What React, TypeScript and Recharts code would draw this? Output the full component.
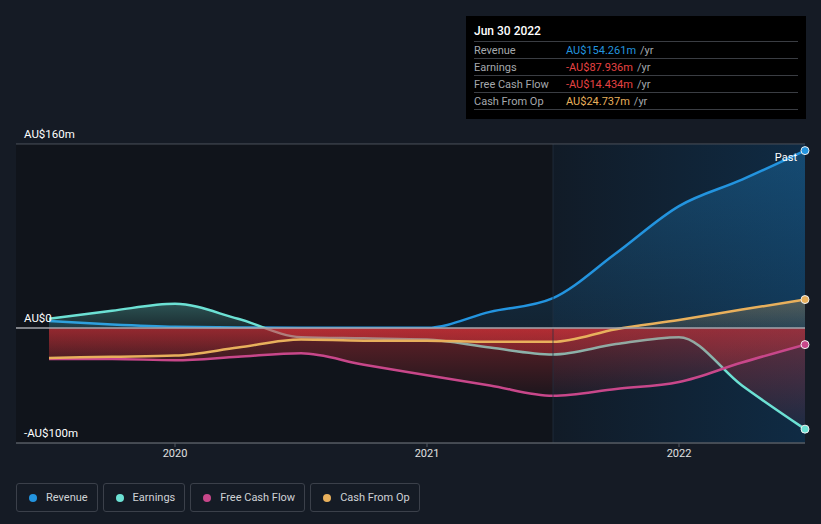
import * as React from "react"
import { ComposedChart, Area, XAxis, YAxis, CartesianGrid, ReferenceArea, ReferenceLine, ReferenceDot } from "recharts"

// quarter ends, as decimal years (Jun 2019 .. Jun 2022)
const periods = [2019.5, 2019.75, 2020, 2020.25, 2020.5, 2020.75, 2021, 2021.25, 2021.5, 2021.75, 2022, 2022.25, 2022.5]
const revenue = [6, 3, 1, 0.5, 0.3, 0.2, 0.2, 14, 26, 65, 106, 129, 154.261]
const earnings = [8, 15, 21, 8, -8, -9, -10, -17, -23, -14, -8, -50, -87.936]
const freeCashFlow = [-27, -27, -28, -25, -22, -32, -41, -50, -59, -53, -47, -30, -14.434]
const cashFromOp = [-26, -25, -24, -17, -10, -11, -11, -12, -12, -1, 7, 16, 24.737]

const yLabelTicks = [160, 0, -100]
const yTicks = [-100, 0, 100, 160]
const xTicks = [2020, 2021, 2022]
const X_MIN = 2019.369
const X_MAX = 2022.5
const PAST_START = 2021.5

const series = [
  { key: "revenue", name: "Revenue", color: "#2394df", values: revenue, latest: "AU$154.261m", valueColor: "#2394df" },
  { key: "earnings", name: "Earnings", color: "#6ce1d4", values: earnings, latest: "-AU$87.936m", valueColor: "#e64343" },
  { key: "fcf", name: "Free Cash Flow", color: "#c8478a", values: freeCashFlow, latest: "-AU$14.434m", valueColor: "#e64343" },
  { key: "cfo", name: "Cash From Op", color: "#e8b05c", values: cashFromOp, latest: "AU$24.737m", valueColor: "#e8b05c" },
]

const data = periods.map((t, i) => {
  const row: Record<string, number> = { t }
  series.forEach(s => { row[s.key] = s.values[i] })
  return row
})

const fmtY = (v: number) => {
  if (v === 0) return "AU$0"
  return (v < 0 ? "-" : "") + "AU$" + Math.abs(v) + "m"
}

const lineStroke: Record<number, string> = { 160: "#474c56", 0: "#a3a6ad", [-100]: "#555a63" }

const font = "Roboto, 'Noto Sans', sans-serif"

export default function App() {
  return (
    <div style={{ position: "absolute", left: 0, top: 0, width: 821, height: 524, background: "#151b25", fontFamily: font, overflow: "hidden" }}>
      <ComposedChart
        width={821}
        height={470}
        data={data}
        margin={{ top: 144, right: 16, bottom: 7, left: 16 }}
        style={{ fontFamily: font }}
      >
        <defs>
          <linearGradient id="pastBg" x1="0" y1="0" x2="1" y2="0">
            <stop offset="0%" stopColor="#111b27" />
            <stop offset="100%" stopColor="#0f2b44" />
          </linearGradient>
          {series.map(s => {
            const max = Math.max(0, ...s.values)
            const min = Math.min(0, ...s.values)
            const z = max / (max - min)
            return (
              <linearGradient key={s.key} id={`fill-${s.key}`} x1="0" y1="0" x2="0" y2="1">
                <stop offset="0" stopColor={s.color} stopOpacity={0.3} />
                <stop offset={z} stopColor={s.color} stopOpacity={0.12} />
                <stop offset={z} stopColor="#e0343a" stopOpacity={0.4} />
                <stop offset="1" stopColor="#e0343a" stopOpacity={0.06} />
              </linearGradient>
            )
          })}
        </defs>
        <ReferenceArea x1={X_MIN} x2={PAST_START} y1={-100} y2={160} fill="#10141b" fillOpacity={1} stroke="none" ifOverflow="hidden" />
        <ReferenceArea x1={PAST_START} x2={X_MAX} y1={-100} y2={160} fill="url(#pastBg)" fillOpacity={1} stroke="none" ifOverflow="hidden" />
        <CartesianGrid vertical={false} stroke="#262c36" />
        <ReferenceLine x={PAST_START} stroke="#223041" strokeOpacity={0.7} />
        <XAxis
          dataKey="t"
          type="number"
          domain={[X_MIN, X_MAX]}
          ticks={xTicks}
          allowDataOverflow
          tickFormatter={(v: number) => String(v)}
          tick={{ fill: "#e0e0e0", fontSize: 11 }}
          axisLine={{ stroke: "#555a63" }}
          tickLine={{ stroke: "#555a63" }}
          tickSize={4}
          height={20}
        />
        <YAxis
          type="number"
          domain={[-100, 160]}
          ticks={yTicks}
          width={0}
          axisLine={false}
          tickLine={false}
          tick={false}
          allowDataOverflow
        />
        {series.map(s => (
          <Area
            key={s.key}
            type="monotone"
            dataKey={s.key}
            name={s.name}
            stroke={s.color}
            strokeWidth={2.5}
            fill={`url(#fill-${s.key})`}
            fillOpacity={1}
            baseValue={0}
            dot={false}
            activeDot={false}
            isAnimationActive={false}
          />
        ))}
        {yLabelTicks.map(v => (
          <ReferenceLine
            key={v}
            y={v}
            stroke={lineStroke[v]}
            strokeWidth={v === 0 ? 1.5 : 1}
            label={(p: any) => (
              <text x={p.viewBox.x + 8} y={p.viewBox.y - 6} fill="#fff" fontSize={11.5}>
                {fmtY(v)}
              </text>
            )}
          />
        ))}
        {series.map((s, i) => (
          <ReferenceDot
            key={s.key}
            x={periods[periods.length - 1]}
            y={s.values[s.values.length - 1]}
            r={4}
            fill={s.color}
            stroke="#f0f0f0"
            strokeWidth={1}
            label={i === 0 ? (p: any) => (
              <text x={p.viewBox.x - 4} y={p.viewBox.y + 14} textAnchor="end" fill="#fff" fontSize={11}>Past</text>
            ) : undefined}
          />
        ))}
      </ComposedChart>

      <div style={{ position: "absolute", left: 466, top: 16, width: 340, height: 103, background: "#000", boxSizing: "border-box", padding: "0 8px" }}>
        <div style={{ color: "#fff", fontSize: 12, fontWeight: 500, height: 25, lineHeight: "31px", borderBottom: "1px solid #3a3d43" }}>Jun 30 2022</div>
        {series.map(s => (
          <div key={s.key} style={{ display: "flex", height: 17, lineHeight: "17px", fontSize: 11, borderBottom: "1px solid #3a3d43", boxSizing: "border-box" }}>
            <span style={{ width: 92, color: "#a5a8ad" }}>{s.name}</span>
            <span style={{ color: s.valueColor }}>{s.latest}</span>
            <span style={{ color: "#a5a8ad", marginLeft: 4 }}>/yr</span>
          </div>
        ))}
      </div>

      <div style={{ position: "absolute", left: 16, top: 483, display: "flex", gap: 5 }}>
        {series.map(s => (
          <div key={s.key} style={{ display: "flex", alignItems: "center", height: 27, border: "1px solid #3b404a", borderRadius: 3, padding: "0 9px 0 12px", color: "#d0d2d6", fontSize: 11 }}>
            <span style={{ width: 8, height: 8, borderRadius: 4, background: s.color, marginRight: 9 }} />
            {s.name}
          </div>
        ))}
      </div>
    </div>
  )
}
